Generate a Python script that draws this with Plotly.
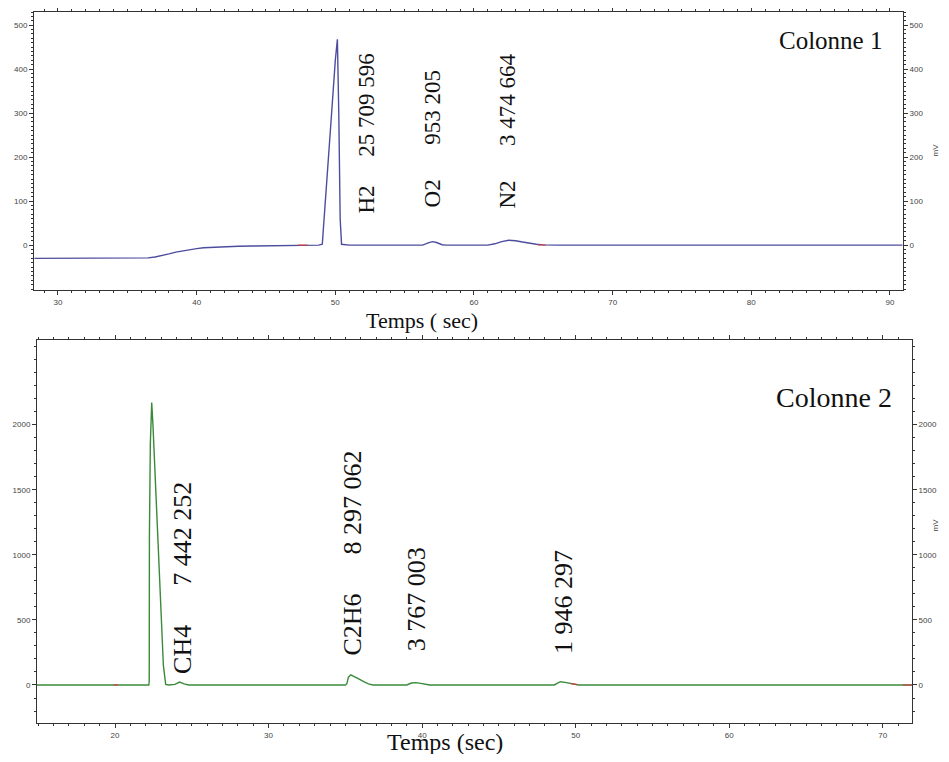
import plotly.graph_objects as go

# ---------------- Data ----------------
# Colonne 1 chromatogram (time in s, signal in mV)
col1_time = [28.3, 30, 32, 34, 36, 36.5, 37, 37.5, 38, 38.5, 39, 39.5, 40, 40.5, 41, 42, 43, 44, 46, 48,
             48.8, 49.06, 49.2, 49.4, 49.6, 49.8, 50.0, 50.15, 50.25, 50.35, 50.45, 51, 53, 55,
             56.3, 56.7, 57.0, 57.3, 57.7, 58, 60, 61, 61.5, 62, 62.5, 63, 63.5, 64, 64.5, 65, 66, 70, 80, 90.9]
col1_signal = [-30, -30, -30, -30, -30, -29, -27, -24, -20, -16, -13, -10, -8, -6, -5, -3.5, -2.5, -2, -1, 0,
               0, 2, 60, 150, 240, 330, 420, 468, 300, 60, 2, 0, 0, 0,
               0, 5, 8, 6, 1, 0, 0, 0, 3, 8, 11, 10, 7, 4, 2, 0.5, 0, 0, 0, 0]
col1_base_time = [47.3, 48.0, None, 64.6, 65.2]
col1_base_signal = [0, 0, None, 0.5, 0.3]

# Colonne 2 chromatogram
col2_time = [14.9, 20, 22.0, 22.2, 22.23, 22.24, 22.3, 22.39, 22.47, 22.6, 22.8, 23.0, 23.15, 23.3, 23.5,
             23.9, 24.2, 24.5, 24.8, 30, 35.0, 35.1, 35.2, 35.35, 35.6, 35.9, 36.2, 36.5, 36.8,
             39.0, 39.3, 39.6, 39.9, 40.3, 40.5, 48.6, 48.8, 49.0, 49.3, 49.6, 50.0, 50.2, 60, 71.9]
col2_signal = [0, 0, 0, 0, 30, 1140, 1850, 2170, 2000, 1650, 1150, 550, 150, 5, 0,
               5, 22, 8, 0, 0, 0, 10, 60, 78, 65, 45, 25, 8, 0,
               0, 15, 18, 12, 2, 0, 0, 15, 25, 20, 14, 2, 0, 0, 0]
col2_base_time = [19.9, 20.2, None, 49.7, 50.1, None, 71.3, 71.9]
col2_base_signal = [0, 0, None, 10, 3, None, 0, 0]

# Peak annotations
col1_species = ["H2", "O2", "N2"]
col1_areas = ["25 709 596", "953 205", "3 474 664"]
col2_species = ["CH4", "C2H6", "", ""]
col2_areas = ["7 442 252", "8 297 062", "3 767 003", "1 946 297"]

col1_xticks = [30, 40, 50, 60, 70, 80, 90]
col1_yticks = [0, 100, 200, 300, 400, 500]
col2_xticks = [20, 30, 40, 50, 60, 70]
col2_yticks = [0, 500, 1000, 1500, 2000]

# ---------------- Layout helpers ----------------
OFF = 8                      # page body margin
W, H = 949 - 2 * OFF, 762 - 2 * OFF


def px(x):
    return (x - OFF) / W


def py(y):
    return 1 - (y - OFF) / H


c1_x = (px(34), px(903))
c1_y = (py(290), py(12))
c2_x = (px(37), px(912))
c2_y = (py(723), py(340))

# (x, y of text start, number of spaces between species and area)
c1_label_pos = [(52.25, 66, 5), (57.0, 81, 6), (62.4, 78, 6)]
c2_label_pos = [(24.43, 70, 6), (35.44, 208, 6), (39.68, 246, 0), (49.19, 225, 0)]

NB = "\u00a0"
tick_font = dict(family="Liberation Sans, Arial, sans-serif", size=8, color="#444")
serif = "Liberation Serif, Times New Roman, serif"
sans = "Liberation Sans, Arial, sans-serif"
axcol = "#333"

fig = go.Figure()

fig.add_trace(go.Scatter(x=col1_time, y=col1_signal, mode="lines", xaxis="x", yaxis="y",
                         line=dict(color="#4d4d9e", width=1.4), showlegend=False, hoverinfo="skip"))
fig.add_trace(go.Scatter(x=col1_base_time, y=col1_base_signal, mode="lines", xaxis="x", yaxis="y",
                         line=dict(color="#d04040", width=1.2), showlegend=False, hoverinfo="skip"))
fig.add_trace(go.Scatter(x=col1_time, y=col1_signal, mode="lines", xaxis="x", yaxis="y3",
                         line=dict(width=0), showlegend=False, hoverinfo="skip"))

fig.add_trace(go.Scatter(x=col2_time, y=col2_signal, mode="lines", xaxis="x2", yaxis="y2",
                         line=dict(color="#3a8a3a", width=1.4), showlegend=False, hoverinfo="skip"))
fig.add_trace(go.Scatter(x=col2_base_time, y=col2_base_signal, mode="lines", xaxis="x2", yaxis="y2",
                         line=dict(color="#d04040", width=1.2), showlegend=False, hoverinfo="skip"))
fig.add_trace(go.Scatter(x=col2_time, y=col2_signal, mode="lines", xaxis="x2", yaxis="y4",
                         line=dict(width=0), showlegend=False, hoverinfo="skip"))

common_x = dict(ticks="outside", ticklen=4, tickcolor=axcol, showline=True, linecolor=axcol, linewidth=1,
                mirror="ticks", showgrid=False, zeroline=False, tickfont=tick_font, automargin=False)
common_y = dict(ticks="outside", ticklen=4, tickcolor=axcol, showline=True, linecolor=axcol, linewidth=1,
                mirror=True, showgrid=False, zeroline=False, tickfont=tick_font, automargin=False)
right_y = dict(ticks="outside", ticklen=4, tickcolor=axcol, showline=False, side="right",
               showgrid=False, zeroline=False, tickfont=tick_font, automargin=False)


def minor(d):
    return dict(dtick=d, tick0=0, ticklen=2, ticks="outside", tickcolor=axcol, showgrid=False)


fig.update_layout(
    width=W, height=H,
    margin=dict(l=0, r=0, t=0, b=0),
    paper_bgcolor="white", plot_bgcolor="white",
    xaxis=dict(domain=list(c1_x), anchor="y", range=[28.27, 90.94], tickvals=col1_xticks,
               minor=minor(1), **common_x),
    yaxis=dict(domain=list(c1_y), anchor="x", range=[-102, 530], tickvals=col1_yticks,
               minor=minor(10), **common_y),
    yaxis3=dict(overlaying="y", anchor="x", range=[-102, 530], tickvals=col1_yticks,
                minor=minor(10), **right_y),
    xaxis2=dict(domain=list(c2_x), anchor="y2", range=[14.92, 71.9], tickvals=col2_xticks,
                minor=minor(1), **common_x),
    yaxis2=dict(domain=list(c2_y), anchor="x2", range=[-292, 2650], tickvals=col2_yticks,
                minor=minor(100), **common_y),
    yaxis4=dict(overlaying="y2", anchor="x2", range=[-292, 2650], tickvals=col2_yticks,
                minor=minor(100), **right_y),
)

ann = []
for sp, ar, (lx, ly, gap) in zip(col1_species, col1_areas, c1_label_pos):
    txt = sp + NB * gap + ar.replace(" ", NB)
    ann.append(dict(x=lx, y=ly, xref="x", yref="y", text=txt, textangle=-90, showarrow=False,
                    xanchor="center", yanchor="bottom", font=dict(family=serif, size=23, color="#111")))
for sp, ar, (lx, ly, gap) in zip(col2_species, col2_areas, c2_label_pos):
    txt = (sp + NB * gap if sp else "") + ar.replace(" ", NB)
    ann.append(dict(x=lx, y=ly, xref="x2", yref="y2", text=txt, textangle=-90, showarrow=False,
                    xanchor="center", yanchor="bottom", font=dict(family=serif, size=26, color="#111")))

ann += [
    dict(x=px(884), y=py(40), xref="paper", yref="paper", text="Colonne 1", showarrow=False,
         xanchor="right", yanchor="middle", font=dict(family=serif, size=25, color="#111")),
    dict(x=px(894), y=py(397), xref="paper", yref="paper", text="Colonne 2", showarrow=False,
         xanchor="right", yanchor="middle", font=dict(family=serif, size=28, color="#111")),
    dict(x=px(422), y=py(306), xref="paper", yref="paper", text="Temps ( sec)", showarrow=False,
         xanchor="center", yanchor="top", font=dict(family=serif, size=22, color="#111")),
    dict(x=px(445), y=py(757), xref="paper", yref="paper", text="Temps (sec)", showarrow=False,
         xanchor="center", yanchor="bottom", font=dict(family=serif, size=24, color="#111")),
    dict(x=1, y=py(150), xref="paper", yref="paper", text="mV", textangle=-90, showarrow=False,
         xanchor="right", yanchor="middle", font=dict(family=sans, size=8, color="#444")),
    dict(x=1, y=py(525), xref="paper", yref="paper", text="mV", textangle=-90, showarrow=False,
         xanchor="right", yanchor="middle", font=dict(family=sans, size=8, color="#444")),
]
fig.update_layout(annotations=ann)

fig.write_html("out.html")
